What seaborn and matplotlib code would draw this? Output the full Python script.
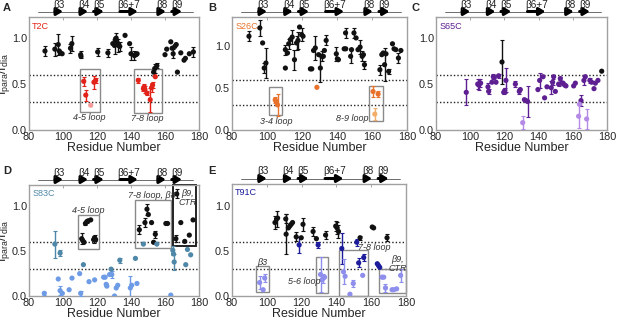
import numpy as np
import pandas as pd
import matplotlib
matplotlib.use("Agg")
import matplotlib.pyplot as plt
import matplotlib.patches as mpatches
import seaborn as sns

# ---------------- data ----------------
# Panel A  (T2C)
A_black_x = [89.4, 95.2, 97.2, 97.8, 98.5, 99.5, 104.4, 105.2, 110.4, 110.6, 120.4, 126.4, 129.3, 130.3, 130.7,
             131.3, 131.9, 132.6, 133.4, 136.5, 139.2, 140.0, 142.0, 143.0, 143.6, 153.3, 154.0, 155.2, 160.0,
             161.0, 163.4, 164.2, 164.8, 165.8, 166.6, 167.3, 169.3, 171.2, 172.0, 174.3, 176.7]
A_black_y = [0.86, 0.88, 0.93, 0.86, 0.84, 0.83, 0.89, 0.94, 0.82, 0.80, 0.85, 0.84, 0.94, 0.92, 0.98,
             1.00, 0.95, 0.92, 0.91, 1.03, 0.94, 0.83, 0.81, 0.82, 0.83, 0.63, 0.67, 0.70, 0.82,
             0.88, 0.96, 0.89, 0.83, 0.91, 0.93, 0.63, 0.84, 0.76, 0.78, 0.83, 0.85]
A_black_e = [0.05, 0.07, 0.11, 0.0, 0.0, 0.0, 0.05, 0.08, 0.04, 0.0, 0.04, 0.04, 0.0, 0.09, 0.0,
             0.06, 0.0, 0.07, 0.05, 0.0, 0.0, 0.07, 0.05, 0.0, 0.0, 0.04, 0.05, 0.03, 0.0,
             0.0, 0.0, 0.0, 0.05, 0.0, 0.0, 0.0, 0.0, 0.0, 0.0, 0.0, 0.05]
A_dark_x = [112.2, 113.4, 118.2, 119.2, 144.3, 147.3, 147.8, 148.2, 149.4, 151.3, 152.1, 152.7, 154.3]
A_dark_y = [0.53, 0.38, 0.52, 0.54, 0.54, 0.45, 0.47, 0.44, 0.40, 0.33, 0.46, 0.49, 0.58]
A_dark_e = [0.05, 0.06, 0.07, 0.03, 0.03, 0.03, 0.03, 0.04, 0.02, 0.13, 0.05, 0.03, 0.0]
A_light_x = [116.3]
A_light_y = [0.27]
A_light_e = [0.0]

# Panel B  (S26C)
B_black_x = [89.7, 95.9, 97.5, 98.4, 99.4, 110.5, 110.5, 111.7, 112.4, 113.4, 114.4, 115.7, 116.9, 117.7, 118.6,
             119.8, 120.6, 124.8, 125.6, 126.6, 127.6, 129.5, 130.5, 131.3, 132.2, 132.8, 133.8, 139.6, 140.2,
             140.8, 144.1, 144.9, 145.0, 147.8, 148.3, 149.7, 150.9, 152.0, 153.2, 154.4, 155.1, 155.7, 164.5,
             165.6, 166.4, 167.2, 168.0, 169.5, 171.7, 172.6, 173.6, 175.1, 176.5]
B_black_y = [1.12, 1.22, 1.04, 0.74, 0.80, 0.74, 0.96, 0.92, 1.03, 1.08, 1.11, 0.84, 1.04, 1.07, 1.23,
             1.14, 1.12, 0.73, 0.73, 0.95, 0.98, 0.90, 0.74, 0.88, 0.88, 0.95, 1.07, 0.91, 0.85,
             0.84, 0.97, 1.16, 0.97, 0.88, 0.96, 1.16, 1.10, 0.96, 0.99, 0.88, 0.90, 0.78, 0.72,
             0.90, 0.92, 0.78, 0.91, 0.70, 1.03, 0.97, 0.96, 0.86, 0.95]
B_black_e = [0.06, 0.10, 0.0, 0.06, 0.18, 0.0, 0.06, 0.0, 0.06, 0.0, 0.08, 0.12, 0.08, 0.10, 0.0,
             0.08, 0.0, 0.0, 0.0, 0.0, 0.14, 0.0, 0.17, 0.06, 0.0, 0.0, 0.06, 0.08, 0.0,
             0.0, 0.0, 0.06, 0.0, 0.08, 0.0, 0.06, 0.0, 0.0, 0.08, 0.06, 0.0, 0.05, 0.06,
             0.0, 0.0, 0.20, 0.0, 0.03, 0.0, 0.0, 0.0, 0.06, 0.0]
B_dark_x = [104.7, 105.2, 106.0, 128.5, 160.6, 163.5]
B_dark_y = [0.36, 0.34, 0.30, 0.51, 0.46, 0.43]
B_dark_e = [0.04, 0.0, 0.13, 0.0, 0.06, 0.03]
B_light_x = [161.6]
B_light_y = [0.19]
B_light_e = [0.07]

# Panel C  (S65C)
C_black_x = [118.6, 176.9]
C_black_y = [0.74, 0.64]
C_black_e = [0.24, 0.0]
C_dark_x = [97.7, 104.4, 105.0, 105.6, 106.1, 110.4, 110.8, 112.7, 113.5, 114.1,
            115.1, 116.6, 119.6, 120.2, 120.9, 126.4, 128.7, 129.3, 131.7, 132.6,
            133.6, 139.6, 140.6, 142.6, 143.5, 144.9, 147.4, 148.2, 148.8, 149.8,
            151.7, 152.7, 153.3, 154.3, 155.2, 156.0, 160.5, 161.5, 164.8, 166.5,
            167.3, 170.0, 171.0, 172.4, 173.2, 174.7]
C_dark_y = [0.41, 0.50, 0.49, 0.51, 0.51, 0.47, 0.42, 0.52, 0.58, 0.57,
            0.52, 0.59, 0.41, 0.43, 0.54, 0.50, 0.42, 0.44, 0.33, 0.32,
            0.31, 0.44, 0.54, 0.58, 0.35, 0.47, 0.46, 0.52, 0.58, 0.42,
            0.50, 0.56, 0.51, 0.51, 0.49, 0.48, 0.48, 0.51, 0.32, 0.54,
            0.58, 0.54, 0.52, 0.45, 0.51, 0.54]
C_dark_e = [0.14, 0.05, 0.06, 0.04, 0.0, 0.04, 0.03, 0.0, 0.03, 0.0,
            0.0, 0.02, 0.02, 0.03, 0.13, 0.03, 0.03, 0.0, 0.0, 0.0,
            0.17, 0.0, 0.08, 0.0, 0.0, 0.0, 0.07, 0.03, 0.0, 0.0,
            0.02, 0.02, 0.0, 0.0, 0.0, 0.0, 0.0, 0.0, 0.06, 0.05,
            0.0, 0.03, 0.0, 0.0, 0.0, 0.0]
C_light_x = [130.7, 163.4, 163.9, 168.1]
C_light_y = [0.08, 0.15, 0.28, 0.12]
C_light_e = [0.07, 0.13, 0.0, 0.11]

# Panel D  (S83C)
D_black_x = [111.0, 111.6, 112.4, 113.2, 114.0, 114.8, 116.3, 118.0, 118.6, 119.2,
             144.9, 148.2, 149.4, 150.2, 152.1, 153.3, 154.3, 160.5, 161.5, 166.4,
             166.9, 169.3, 171.6, 174.3, 176.5]
D_black_y = [0.64, 0.62, 0.60, 0.81, 0.83, 0.84, 0.85, 0.63, 0.65, 0.63,
             0.74, 0.82, 0.97, 0.91, 0.82, 0.60, 0.69, 0.81, 0.81, 0.64,
             1.14, 0.82, 0.61, 0.68, 0.85]
D_black_e = [0.06, 0.0, 0.0, 0.02, 0.02, 0.0, 0.0, 0.04, 0.03, 0.0,
             0.05, 0.05, 0.06, 0.0, 0.0, 0.0, 0.04, 0.0, 0.0, 0.04,
             0.05, 0.0, 0.0, 0.0, 0.0]
D_dark_x = [95.2, 98.3, 112.0, 128.3, 133.4, 142.6, 147.3, 155.2, 164.6, 165.0, 165.4, 172.2, 173.2, 175.1]
D_dark_y = [0.58, 0.48, 0.35, 0.30, 0.40, 0.42, 0.58, 0.58, 0.51, 0.47, 0.38, 0.35, 0.52, 0.46]
D_dark_e = [0.15, 0.03, 0.0, 0.0, 0.03, 0.0, 0.0, 0.0, 0.05, 0.0, 0.09, 0.0, 0.0, 0.0]
D_light_x = [89.0, 97.2, 98.3, 99.6, 103.6, 105.3, 109.8, 110.4, 115.3, 118.6,
             123.9, 124.8, 125.4, 125.8, 127.4, 128.7, 130.3, 131.3, 132.2, 139.6,
             140.4, 143.5, 163.4]
D_light_y = [0.03, 0.19, 0.06, 0.03, 0.07, 0.20, 0.25, 0.03, 0.16, 0.18,
             0.21, 0.21, 0.13, 0.11, 0.24, 0.24, 0.00, 0.09, 0.12, 0.09,
             0.12, 0.14, 0.01]
D_light_e = [0.02, 0.0, 0.05, 0.0, 0.0, 0.0, 0.0, 0.03, 0.0, 0.0,
             0.0, 0.0, 0.02, 0.0, 0.0, 0.04, 0.0, 0.0, 0.0, 0.13,
             0.0, 0.0, 0.0]

# Panel E  (T91C)
E_black_x = [104.7, 105.6, 106.2, 110.9, 111.1, 112.4, 113.2, 114.0, 114.8, 116.9, 119.8,
             120.8, 126.6, 128.5, 133.8, 139.6, 140.4, 141.2, 153.6, 160.6, 161.4, 169.1]
E_black_y = [0.82, 0.86, 0.87, 0.86, 0.69, 0.76, 0.78, 0.80, 0.82, 0.66, 0.65,
             0.80, 0.72, 0.64, 0.68, 0.78, 0.76, 0.72, 0.65, 0.77, 0.76, 0.65]
E_black_e = [0.07, 0.09, 0.0, 0.05, 0.22, 0.0, 0.0, 0.0, 0.0, 0.05, 0.0,
             0.07, 0.05, 0.0, 0.04, 0.06, 0.07, 0.07, 0.02, 0.0, 0.0, 0.04]
E_dark_x = [118.6, 129.5, 143.1, 151.7, 152.8, 155.7, 163.5, 164.2, 164.9]
E_dark_y = [0.57, 0.57, 0.53, 0.60, 0.37, 0.43, 0.36, 0.34, 0.32]
E_dark_e = [0.09, 0.03, 0.17, 0.04, 0.05, 0.04, 0.0, 0.0, 0.0]
E_light_x = [95.9, 97.9, 98.8, 130.9, 131.8, 132.5, 133.2, 144.1, 145.0, 147.8,
             149.7, 155.1, 166.2, 167.2, 168.2, 172.0, 173.0, 174.6, 176.9]
E_light_y = [0.15, 0.07, 0.20, 0.24, 0.18, 0.20, 0.21, 0.27, 0.22, 0.02,
             0.14, 0.23, 0.21, 0.21, 0.09, 0.07, 0.07, 0.08, 0.23]
E_light_e = [0.07, 0.0, 0.04, 0.20, 0.0, 0.05, 0.0, 0.14, 0.0, 0.0,
             0.04, 0.0, 0.0, 0.0, 0.04, 0.0, 0.0, 0.0, 0.07]

# secondary structure
ss_labels = ["β3", "β4", "β5", "β6+7", "β8", "β9"]
ss_start = [95.3, 110.0, 118.0, 133.5, 156.0, 164.0]
ss_end = [100.0, 114.7, 124.0, 144.0, 160.5, 170.0]
ss_line = [85.3, 176.5]

mutants = ["T2C", "S26C", "S65C", "S83C", "T91C"]
letters = ["A", "B", "C", "D", "E"]
dark_cols = ["#e2231a", "#e8722c", "#5d1f91", "#4f87a8", "#1c1c9c"]
light_cols = ["#f29a9a", "#f2ad6b", "#b58ae6", "#6d9be6", "#8e8eec"]
ytops = [1.23, 1.35, 1.23, 1.24, 1.25]

panel_data = {
    "A": [(A_black_x, A_black_y, A_black_e), (A_dark_x, A_dark_y, A_dark_e), (A_light_x, A_light_y, A_light_e)],
    "B": [(B_black_x, B_black_y, B_black_e), (B_dark_x, B_dark_y, B_dark_e), (B_light_x, B_light_y, B_light_e)],
    "C": [(C_black_x, C_black_y, C_black_e), (C_dark_x, C_dark_y, C_dark_e), (C_light_x, C_light_y, C_light_e)],
    "D": [(D_black_x, D_black_y, D_black_e), (D_dark_x, D_dark_y, D_dark_e), (D_light_x, D_light_y, D_light_e)],
    "E": [(E_black_x, E_black_y, E_black_e), (E_dark_x, E_dark_y, E_dark_e), (E_light_x, E_light_y, E_light_e)],
}

# boxes: (x0, x1, y0, y1, label, label_x, label_y, thick)
boxes = {
    "A": [(109.8, 121.9, 0.20, 0.66, "4-5 loop", 115.7, 0.14, False),
          (141.6, 158.0, 0.18, 0.66, "7-8 loop", 149.8, 0.13, False)],
    "B": [(101.4, 108.5, 0.18, 0.51, "3-4 loop", 105.5, 0.10, False),
          (158.3, 166.2, 0.11, 0.52, "8-9 loop", 149.0, 0.14, False)],
    "C": [],
    "D": [(108.9, 120.9, 0.52, 0.91, "4-5 loop", 114.8, 0.96, False),
          (142.6, 163.4, 0.54, 1.07, "7-8 loop, β8", 152.5, 1.12, False),
          (164.8, 178.4, 0.56, 1.24, "β9,\nCTR", 173.2, 1.10, True)],
    "E": [(93.6, 101.4, 0.04, 0.33, "β3", 97.5, 0.37, False),
          (128.3, 135.3, 0.03, 0.44, "5-6 loop", 121.5, 0.16, False),
          (141.6, 158.1, 0.0, 0.51, "7-8 loop", 162.0, 0.54, False),
          (164.3, 180.0, 0.03, 0.30, "β9,\nCTR", 175.0, 0.36, False)],
}

# ---------------- plotting ----------------
sns.set_theme(style="white")
plt.rcParams["font.family"] = ["Liberation Sans", "DejaVu Sans"]
plt.rcParams["mathtext.fontset"] = "custom"
plt.rcParams["mathtext.rm"] = "Liberation Sans"
plt.rcParams["mathtext.it"] = "Liberation Sans:italic"

W, H = 617, 321
fig = plt.figure(figsize=(W / 100, H / 100), dpi=100)

rects_px = {  # left, top, right, bottom in px
    "A": (29, 17, 199, 130),
    "B": (232, 17, 407, 130),
    "C": (436, 17, 607, 130),
    "D": (29, 185, 199, 296),
    "E": (232, 184, 406, 296),
}
letter_pos = {"A": (3, 8), "B": (208, 8), "C": (411, 8), "D": (3, 171), "E": (208, 171)}

for i, key in enumerate(letters):
    l, t, r, b = rects_px[key]
    ax = fig.add_axes([l / W, 1 - b / H, (r - l) / W, (b - t) / H])
    groups = panel_data[key]
    cols = ["#111111", dark_cols[i], light_cols[i]]
    rows = []
    for g, (xs, ys, es) in enumerate(groups):
        for xv, yv, ev in zip(xs, ys, es):
            rows.append({"res": xv, "val": yv, "err": ev, "grp": g})
    df = pd.DataFrame(rows)
    for g in range(3):
        sub = df[(df.grp == g) & (df.err > 0)]
        if len(sub):
            ax.errorbar(sub.res, sub.val, yerr=sub.err, fmt="none", ecolor=cols[g],
                        elinewidth=1.0, capsize=1.3, capthick=0.8, zorder=3)
    sns.scatterplot(data=df, x="res", y="val", hue="grp", palette={0: cols[0], 1: cols[1], 2: cols[2]},
                    s=14, linewidth=0, legend=False, ax=ax, zorder=4)

    ax.axhline(0.6, color="#222222", ls=(0, (1, 1.5)), lw=1.0, zorder=2)
    ax.axhline(0.3, color="#222222", ls=(0, (1, 1.5)), lw=1.0, zorder=2)

    for (x0, x1, y0, y1, lab, lx, ly, thick) in boxes[key]:
        ax.add_patch(mpatches.Rectangle((x0, y0), x1 - x0, y1 - y0, fill=False,
                                        edgecolor="#222222" if thick else "#8a8a8a",
                                        lw=1.4 if thick else 1.0, zorder=2, clip_on=False))
        ax.text(lx, ly, lab, ha="center", va="center", fontsize=6.5, style="italic",
                color="#333333", zorder=5, linespacing=1.0)

    ax.set_xlim(80, 180)
    ax.set_ylim(0, ytops[i])
    ax.set_xticks([80, 100, 120, 140, 160, 180])
    ax.set_yticks([0.0, 0.5, 1.0])
    ax.set_yticklabels(["0.0", "0.5", "1.0"])
    ax.tick_params(axis="both", labelsize=7.8, length=2, width=0.6, color="#999999", pad=1.5,
                   direction="in", top=True)
    for sp in ax.spines.values():
        sp.set_color("#a0a0a0")
        sp.set_linewidth(1.0)
    ax.set_xlabel("Residue Number", fontsize=9, labelpad=0)
    if key in ("A", "D"):
        ax.set_ylabel(r"$\mathregular{I_{para}/I_{dia}}$", fontsize=9)
        ax.yaxis.set_label_coords(-0.1, 0.5)
    else:
        ax.set_ylabel("")

    ax.text(0.018, 0.96, mutants[i], transform=ax.transAxes, ha="left", va="top",
            fontsize=6.5, color=dark_cols[i])

    # secondary structure above the axes
    trans = ax.get_xaxis_transform()
    ss_y = 1 + 5.5 / (b - t)
    lab_y = 1 + 12.5 / (b - t)
    ax.plot(ss_line, [ss_y, ss_y], transform=trans, color="#555555", lw=0.6, clip_on=False)
    for s0, s1, sl in zip(ss_start, ss_end, ss_labels):
        ax.annotate("", xy=(s1, ss_y), xytext=(s0, ss_y), xycoords=trans, textcoords=trans,
                    annotation_clip=False,
                    arrowprops=dict(arrowstyle="-|>,head_width=0.18,head_length=0.3",
                                    lw=2.2, color="black", shrinkA=0, shrinkB=0))
        ax.text((s0 + s1) / 2, lab_y, sl, transform=trans, ha="center", va="center",
                fontsize=7.2, color="#222222")

    lx, ly = letter_pos[key]
    fig.text(lx / W, 1 - ly / H, key, fontsize=8, fontweight="bold", ha="left", va="center")

fig.savefig("out.png", dpi=100)
